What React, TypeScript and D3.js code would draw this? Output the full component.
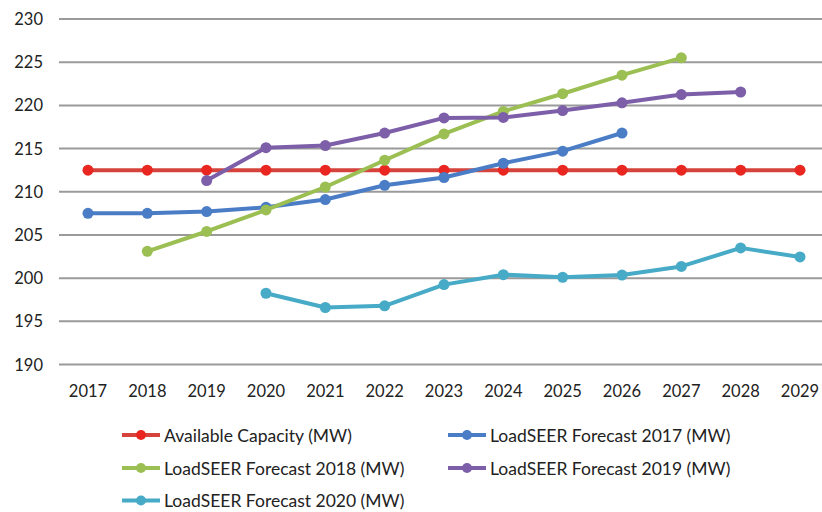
import React from "react";
import * as d3 from "d3";

const years = [2017, 2018, 2019, 2020, 2021, 2022, 2023, 2024, 2025, 2026, 2027, 2028, 2029];
const yTicks = [190, 195, 200, 205, 210, 215, 220, 225, 230];

// null = no value for that year
const availableCapacity = [212.5, 212.5, 212.5, 212.5, 212.5, 212.5, 212.5, 212.5, 212.5, 212.5, 212.5, 212.5, 212.5];
const forecast2017 = [207.5, 207.5, 207.7, 208.2, 209.1, 210.75, 211.65, 213.3, 214.7, 216.8, null, null, null];
const forecast2018 = [null, 203.1, 205.4, 207.9, 210.55, 213.65, 216.7, 219.3, 221.35, 223.5, 225.5, null, null];
const forecast2019 = [null, null, 211.3, 215.1, 215.35, 216.8, 218.55, 218.6, 219.4, 220.3, 221.25, 221.55, null];
const forecast2020 = [null, null, null, 198.25, 196.6, 196.8, 199.25, 200.4, 200.1, 200.35, 201.35, 203.5, 202.45];

const series = [
  { name: "Available Capacity (MW)", values: availableCapacity, line: "#D6433C", dot: "#EA2620" },
  { name: "LoadSEER Forecast 2017 (MW)", values: forecast2017, line: "#4A7DC6", dot: "#4A7DC6" },
  { name: "LoadSEER Forecast 2018 (MW)", values: forecast2018, line: "#9BBF52", dot: "#9BBF52" },
  { name: "LoadSEER Forecast 2019 (MW)", values: forecast2019, line: "#7D5EA8", dot: "#7D5EA8" },
  { name: "LoadSEER Forecast 2020 (MW)", values: forecast2020, line: "#47AAC6", dot: "#47AAC6" },
];

const W = 822;
const H = 512;
const FONT = "Lato, 'Open Sans', sans-serif";

export default function App() {
  const x = d3.scalePoint<number>().domain(years).range([88, 800]);
  const y = d3.scaleLinear().domain([190, 230]).range([364.5, 19]);

  const line = d3
    .line<number | null>()
    .defined((d) => d !== null)
    .x((_, i) => x(years[i]) as number)
    .y((d) => y(d as number));

  // legend layout: two columns, three rows
  const legendPos = (i: number) => ({
    lx: i % 2 === 0 ? 122 : 448,
    ly: [435, 468, 500.5][Math.floor(i / 2)],
  });

  return (
    <svg
      width={W}
      height={H}
      style={{ position: "absolute", left: 0, top: 0, background: "#fff" }}
      fontFamily={FONT}
    >
      {/* gridlines */}
      {yTicks.map((t) => (
        <line key={t} x1={59} x2={W} y1={y(t)} y2={y(t)} stroke="#9a9a9a" strokeWidth={2} />
      ))}
      {/* y labels */}
      {yTicks.map((t) => (
        <text
          key={"yl" + t}
          x={43}
          y={y(t)}
          textAnchor="end"
          dominantBaseline="central"
          fontSize={16.5}
          fill="#222"
        >
          {t}
        </text>
      ))}
      {/* x labels */}
      {years.map((yr) => (
        <text key={"xl" + yr} x={x(yr)} y={397} textAnchor="middle" fontSize={16.5} fill="#222">
          {yr}
        </text>
      ))}

      {/* series */}
      {series.map((s) => (
        <g key={s.name}>
          <path d={line(s.values) ?? ""} fill="none" stroke={s.line} strokeWidth={4} strokeLinejoin="round" />
          {s.values.map((v, i) =>
            v === null ? null : (
              <circle key={i} cx={x(years[i])} cy={y(v)} r={5.5} fill={s.dot} />
            )
          )}
        </g>
      ))}

      {/* legend */}
      {series.map((s, i) => {
        const { lx, ly } = legendPos(i);
        return (
          <g key={"lg" + s.name}>
            <line x1={lx} x2={lx + 38} y1={ly} y2={ly} stroke={s.line} strokeWidth={4} />
            <circle cx={lx + 19} cy={ly} r={5} fill={s.dot} />
            <text x={lx + 42} y={ly} dominantBaseline="central" fontSize={17.5} fill="#222">
              {s.name}
            </text>
          </g>
        );
      })}
    </svg>
  );
}
